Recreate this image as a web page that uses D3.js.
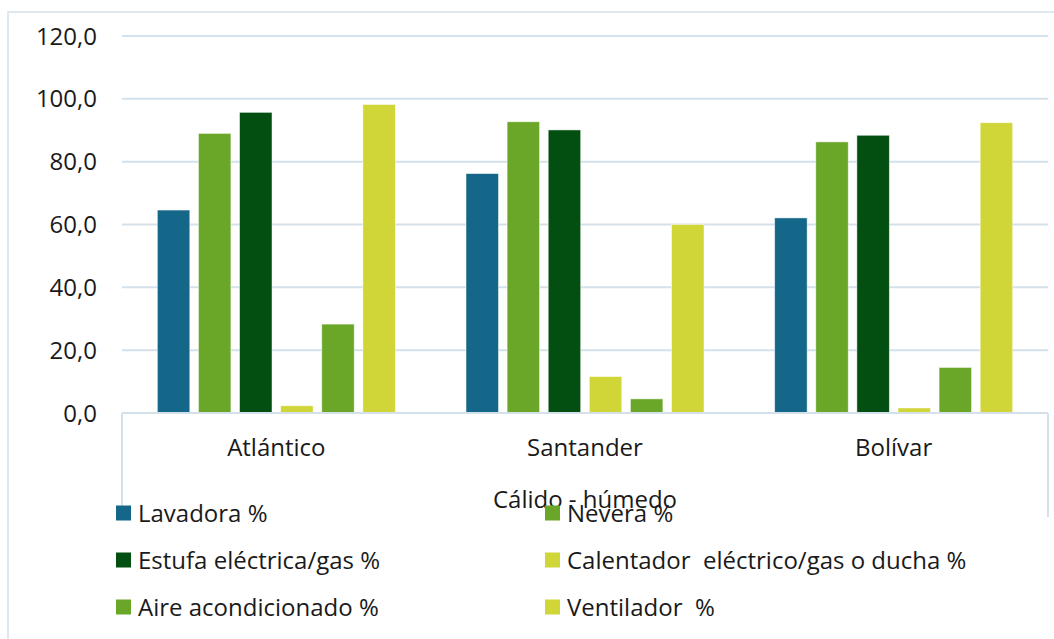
<!DOCTYPE html>
<html>
<head>
<meta charset="utf-8">
<script src="https://cdn.jsdelivr.net/npm/d3@7/dist/d3.min.js"></script>
<style>
  html, body { margin: 0; padding: 0; background: #fff; }
  svg { display: block; font-family: "Open Sans", sans-serif; }
</style>
</head>
<body>
<svg id="chart" width="1054" height="639"></svg>
<script>
// Regions (categories) and appliance series
const regions = ["Atlántico", "Santander", "Bolívar"];
const seriesNames = [
  "Lavadora %",
  "Nevera %",
  "Estufa eléctrica/gas %",
  "Calentador  eléctrico/gas o ducha %",
  "Aire acondicionado %",
  "Ventilador  %"
];
const seriesColors = ["#156789", "#6aa729", "#034f11", "#d0d538", "#6aa729", "#d0d538"];

// Percentages per series, in region order
const lavadora   = [64.6, 76.2, 62.1];
const nevera     = [89.0, 92.7, 86.3];
const estufa     = [95.7, 90.1, 88.4];
const calentador = [2.3, 11.6, 1.6];
const aire       = [28.3, 4.5, 14.5];
const ventilador = [98.2, 60.0, 92.4];
const seriesValues = [lavadora, nevera, estufa, calentador, aire, ventilador];

const yTicks = [0, 20, 40, 60, 80, 100, 120];
const axisTitle = "Cálido - húmedo";

const svg = d3.select("#chart");
const lineColor = "#d5e1ea";
const textColor = "#1a1a1a";
const fontSize = 24;

// outer chart frame
svg.append("rect")
  .attr("x", 8).attr("y", 12)
  .attr("width", 1100).attr("height", 700)
  .attr("fill", "none").attr("stroke", lineColor).attr("stroke-width", 1.5);

const plot = { left: 122, right: 1048, top: 36, bottom: 413 };

const y = d3.scaleLinear().domain([0, 120]).range([plot.bottom, plot.top]);
const x0 = d3.scaleBand().domain(regions).range([plot.left, plot.right]).padding(0);
const gw = x0.bandwidth();
const x1 = d3.scaleBand().domain(d3.range(seriesNames.length))
  .range([gw * 0.1005, gw * 0.8995]).paddingInner(0.21).paddingOuter(0.105);

// gridlines
svg.append("g")
  .selectAll("line")
  .data(yTicks.filter(t => t > 0))
  .join("line")
  .attr("x1", plot.left).attr("x2", plot.right)
  .attr("y1", d => y(d)).attr("y2", d => y(d))
  .attr("stroke", lineColor).attr("stroke-width", 2);

// y tick labels
const fmt = v => d3.format(".1f")(v).replace(".", ",");
svg.append("g")
  .selectAll("text")
  .data(yTicks)
  .join("text")
  .attr("x", 97).attr("y", d => y(d))
  .attr("dy", "0.36em")
  .attr("text-anchor", "end")
  .attr("font-size", fontSize).attr("fill", textColor)
  .text(fmt);

// bars
const groups = svg.append("g")
  .selectAll("g")
  .data(regions)
  .join("g")
  .attr("transform", d => `translate(${x0(d)},0)`);

groups.selectAll("rect")
  .data((d, i) => seriesValues.map((vals, s) => ({ s, v: vals[i] })))
  .join("rect")
  .attr("x", d => x1(d.s))
  .attr("width", x1.bandwidth())
  .attr("y", d => y(d.v))
  .attr("height", d => y(0) - y(d.v))
  .attr("fill", d => seriesColors[d.s])
  .attr("stroke", "rgba(255,255,255,0.6)")
  .attr("stroke-width", 0.8);

// category axis box
const axisG = svg.append("g");
axisG.append("line")
  .attr("x1", plot.left).attr("x2", plot.right)
  .attr("y1", plot.bottom).attr("y2", plot.bottom)
  .attr("stroke", lineColor).attr("stroke-width", 2);
[plot.left, plot.right].forEach(xx => {
  axisG.append("line")
    .attr("x1", xx).attr("x2", xx)
    .attr("y1", plot.bottom).attr("y2", 517)
    .attr("stroke", lineColor).attr("stroke-width", 2);
});
axisG.selectAll("text.cat")
  .data(regions)
  .join("text")
  .attr("class", "cat")
  .attr("x", d => x0(d) + gw / 2)
  .attr("y", 456)
  .attr("text-anchor", "middle")
  .attr("font-size", fontSize).attr("fill", textColor)
  .text(d => d);

svg.append("text")
  .attr("x", 585).attr("y", 508)
  .attr("text-anchor", "middle")
  .attr("font-size", fontSize).attr("fill", textColor)
  .text(axisTitle);

// legend, two columns
const legend = svg.append("g");
const legendCols = [116, 545];
const legendRows = [513, 560, 607];
seriesNames.forEach((name, i) => {
  const lx = legendCols[i % 2];
  const ly = legendRows[Math.floor(i / 2)];
  legend.append("rect")
    .attr("x", lx).attr("y", ly - 7.5)
    .attr("width", 15).attr("height", 15)
    .attr("fill", seriesColors[i]);
  legend.append("text")
    .attr("x", lx + 22).attr("y", ly)
    .attr("dy", "0.36em")
    .attr("font-size", fontSize).attr("fill", textColor)
    .style("white-space", "pre")
    .attr("xml:space", "preserve")
    .text(name);
});
</script>
</body>
</html>
